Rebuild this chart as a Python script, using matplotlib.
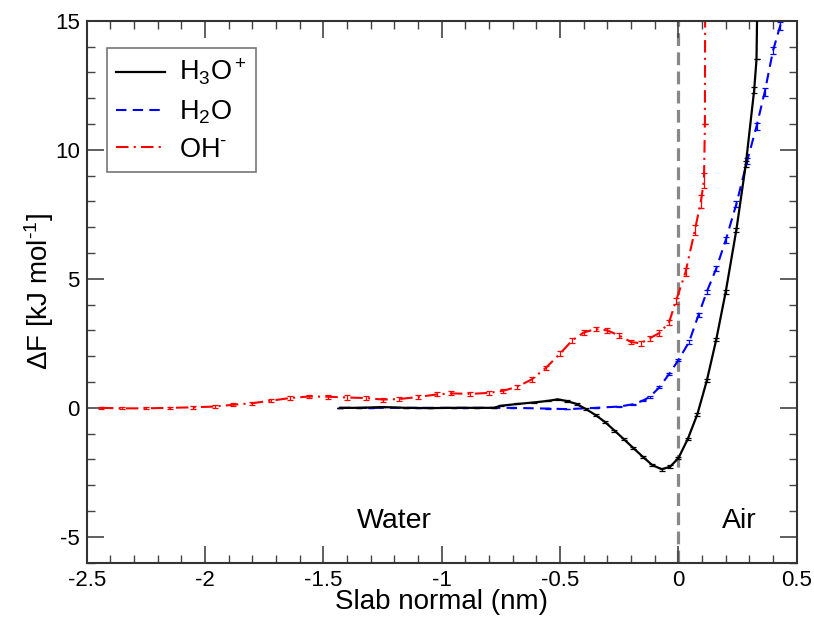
import numpy as np
import matplotlib.pyplot as plt
from matplotlib.ticker import MultipleLocator

plt.rcParams['font.family'] = ['Liberation Sans', 'DejaVu Sans']
plt.rcParams['mathtext.fontset'] = 'custom'
plt.rcParams['mathtext.rm'] = 'Liberation Sans'
plt.rcParams['mathtext.it'] = 'Liberation Sans:italic'

# free energy profiles along the slab normal (nm, kJ/mol)
h3o_x = [-1.43, -1.35, -1.25, -1.15, -1.05, -0.95, -0.85, -0.78, -0.75, -0.68,
         -0.61, -0.55, -0.51, -0.47, -0.43, -0.39, -0.35, -0.31, -0.27, -0.23,
         -0.19, -0.15, -0.11, -0.07, -0.035, 0.0, 0.04, 0.08, 0.12, 0.16,
         0.20, 0.245, 0.285, 0.32, 0.33, 0.333]
h3o_y = [0.0, 0.0, 0.03, 0.0, -0.01, 0.0, 0.0, 0.0, 0.08, 0.15,
         0.21, 0.27, 0.33, 0.26, 0.15, -0.05, -0.28, -0.55, -0.88, -1.22,
         -1.56, -1.90, -2.22, -2.38, -2.28, -1.95, -1.20, -0.25, 1.05, 2.65,
         4.50, 6.90, 9.45, 12.3, 13.5, 15.5]
h3o_err = [0.01, 0.01, 0.01, 0.01, 0.01, 0.01, 0.01, 0.01, 0.02, 0.02,
           0.02, 0.02, 0.03, 0.03, 0.03, 0.03, 0.04, 0.04, 0.04, 0.04,
           0.05, 0.05, 0.05, 0.05, 0.05, 0.05, 0.05, 0.05, 0.05, 0.06,
           0.08, 0.08, 0.1, 0.12, 0.0, 0.0]

h2o_x = [-1.43, -1.3, -1.1, -0.9, -0.7, -0.55, -0.47, -0.35, -0.25, -0.19,
         -0.15, -0.12, -0.08, -0.04, 0.0, 0.045, 0.085, 0.12, 0.16, 0.20,
         0.245, 0.29, 0.33, 0.365, 0.40, 0.43, 0.45]
h2o_y = [0.0, 0.0, 0.0, 0.0, 0.0, -0.03, -0.05, 0.0, 0.05, 0.14,
         0.28, 0.43, 0.80, 1.30, 1.85, 2.55, 3.60, 4.50, 5.40, 6.50,
         7.90, 9.55, 10.9, 12.25, 13.85, 14.8, 15.5]
h2o_err = [0.01, 0.01, 0.01, 0.01, 0.01, 0.01, 0.01, 0.01, 0.02, 0.02,
           0.02, 0.03, 0.03, 0.04, 0.05, 0.06, 0.07, 0.08, 0.1, 0.1,
           0.12, 0.12, 0.15, 0.15, 0.15, 0.15, 0.0]

oh_x = [-2.44, -2.35, -2.25, -2.15, -2.05, -1.96, -1.88, -1.80, -1.72, -1.64,
        -1.56, -1.48, -1.40, -1.32, -1.25, -1.18, -1.10, -1.02, -0.96, -0.88,
        -0.80, -0.74, -0.68, -0.62, -0.56, -0.50, -0.45, -0.40, -0.35, -0.30,
        -0.25, -0.20, -0.16, -0.12, -0.08, -0.04, -0.01, 0.03, 0.07, 0.095,
        0.108, 0.112, 0.113]
oh_y = [0.0, -0.02, -0.02, 0.0, 0.02, 0.05, 0.12, 0.18, 0.28, 0.38,
        0.44, 0.43, 0.40, 0.38, 0.32, 0.34, 0.42, 0.52, 0.56, 0.54,
        0.58, 0.66, 0.82, 1.10, 1.55, 2.10, 2.60, 2.92, 3.05, 3.00,
        2.80, 2.55, 2.50, 2.70, 2.90, 3.30, 4.15, 5.25, 6.90, 8.00,
        8.80, 11.0, 15.5]
oh_err = [0.03, 0.04, 0.04, 0.05, 0.05, 0.06, 0.06, 0.06, 0.07, 0.07,
          0.07, 0.08, 0.08, 0.08, 0.08, 0.08, 0.08, 0.08, 0.08, 0.08,
          0.08, 0.08, 0.08, 0.08, 0.09, 0.09, 0.09, 0.09, 0.09, 0.09,
          0.09, 0.09, 0.09, 0.1, 0.1, 0.1, 0.12, 0.15, 0.2, 0.25,
          0.3, 0.0, 0.0]

fig = plt.figure(figsize=(8.14, 6.18), dpi=100)
ax = fig.add_axes([0.1065, 0.0895, 0.8723, 0.877])

ax.errorbar(h2o_x, h2o_y, yerr=h2o_err, color='#0000ff', lw=1.5,
            ls=(0, (5, 3)), capsize=2.5, elinewidth=0.9, capthick=0.9,
            label='H$_2$O', zorder=2)
ax.errorbar(h3o_x, h3o_y, yerr=h3o_err, color='black', lw=1.6,
            capsize=2.5, elinewidth=0.9, capthick=0.9,
            label='H$_3$O$^+$', zorder=3)
ax.errorbar(oh_x, oh_y, yerr=oh_err, color='#ff0000', lw=1.5,
            ls=(0, (6, 2.5, 1, 2.5)), capsize=2.5, elinewidth=0.9,
            capthick=0.9, label='OH$^{\\text{-}}$', zorder=2)

ax.axvline(0, color='#888888', lw=2.3, ls=(0, (4, 2)), zorder=1)

ax.text(-1.2, -4.4, 'Water', fontsize=20.5, ha='center', va='center')
ax.text(0.256, -4.4, 'Air', fontsize=20.5, ha='center', va='center')

ax.set_xlim(-2.5, 0.5)
ax.set_ylim(-6, 15)
ax.xaxis.set_minor_locator(MultipleLocator(0.1))
ax.yaxis.set_minor_locator(MultipleLocator(1))
ax.set_xticks([-2.5, -2, -1.5, -1, -0.5, 0, 0.5])
ax.set_xticklabels(['-2.5', '-2', '-1.5', '-1', '-0.5', '0', '0.5'])
ax.set_yticks([-5, 0, 5, 10, 15])
ax.set_yticklabels(['-5', '0', '5', '10', '15'])
ax.tick_params(which='both', direction='in', top=True, right=True,
               labelsize=16, color='#444444')
ax.tick_params(which='major', length=12, width=1.2, pad=5)
ax.tick_params(which='minor', length=6, width=1.0)
for s in ax.spines.values():
    s.set_linewidth(1.5)
    s.set_color('#333333')

ax.set_xlabel('Slab normal (nm)', fontsize=20, labelpad=-1)
ax.set_ylabel('$\\Delta$F [kJ mol$^{\\text{-1}}$]', fontsize=20, labelpad=-1)

handles, labels = ax.get_legend_handles_labels()
order = [1, 0, 2]
leg = ax.legend([handles[i][0] for i in order], [labels[i] for i in order],
                loc='upper left', bbox_to_anchor=(0.0286, 0.95),
                fontsize=19.5, frameon=True, fancybox=False,
                handlelength=1.8, handletextpad=0.5, labelspacing=0.4,
                borderpad=0.35, borderaxespad=0)
leg.get_frame().set_edgecolor('#555555')
leg.get_frame().set_linewidth(1.2)

fig.savefig('out.png', dpi=100)
